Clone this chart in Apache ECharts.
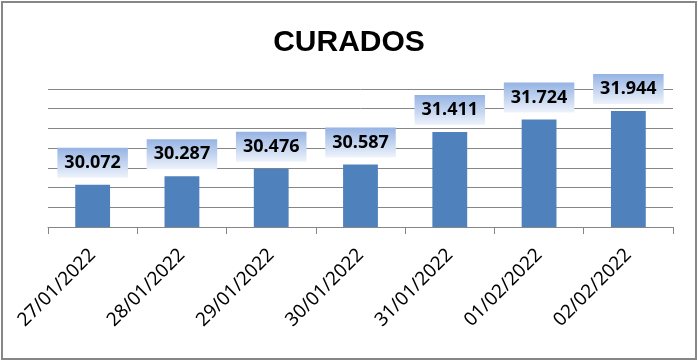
<!DOCTYPE html>
<html>
<head>
<meta charset="utf-8">
<script src="https://cdn.jsdelivr.net/npm/echarts@6/dist/echarts.min.js"></script>
<style>
html,body{margin:0;padding:0;background:#fff;}
#c{width:698px;height:361px;}
</style>
</head>
<body>
<div id="c"></div>
<script>
var categories = ['27/01/2022','28/01/2022','29/01/2022','30/01/2022','31/01/2022','01/02/2022','02/02/2022'];
var values = [30072, 30287, 30476, 30587, 31411, 31724, 31944];
var yMin = 29000, yMax = 32500, yInterval = 500;

function fmt(v){
  var s = String(v);
  return s.slice(0, s.length - 3) + '.' + s.slice(s.length - 3);
}

var chart = echarts.init(document.getElementById('c'));
chart.setOption({
  animation: false,
  backgroundColor: '#fff',
  title: {
    text: 'CURADOS',
    left: 'center',
    top: 23,
    textStyle: {fontFamily: 'Liberation Sans', fontWeight: 'bold', fontSize: 30, color: '#000'}
  },
  graphic: [{
    type: 'rect',
    shape: {x: 2, y: 2, width: 694, height: 357},
    style: {fill: 'none', stroke: '#868686', lineWidth: 2},
    z: 100
  }],
  grid: {left: 48, right: 25, top: 89, bottom: 134},
  xAxis: {
    type: 'category',
    data: categories,
    axisLine: {lineStyle: {color: '#868686', width: 1}},
    axisTick: {show: true, length: 7, lineStyle: {color: '#868686'}},
    axisLabel: {
      rotate: 45, margin: 25, interval: 0,
      fontFamily: 'Noto Sans', fontSize: 19, color: '#000'
    }
  },
  yAxis: {
    type: 'value',
    min: yMin, max: yMax, interval: yInterval,
    axisLabel: {show: false},
    axisLine: {show: false},
    axisTick: {show: false},
    splitLine: {lineStyle: {color: '#868686', width: 1}}
  },
  series: [{
    type: 'bar',
    data: values,
    barWidth: '39%',
    itemStyle: {color: '#4F81BD'},
    label: {
      show: true,
      position: 'top',
      distance: 7,
      formatter: function(p){ return fmt(p.value); },
      fontFamily: 'Noto Sans',
      fontWeight: 'bold',
      fontSize: 18,
      lineHeight: 20,
      color: '#000',
      padding: [5, 7, 5, 7],
      backgroundColor: new echarts.graphic.LinearGradient(0, 0, 0, 1, [
        {offset: 0, color: '#95B3E3'},
        {offset: 1, color: '#EEF3FB'}
      ])
    }
  }]
});
</script>
</body>
</html>
